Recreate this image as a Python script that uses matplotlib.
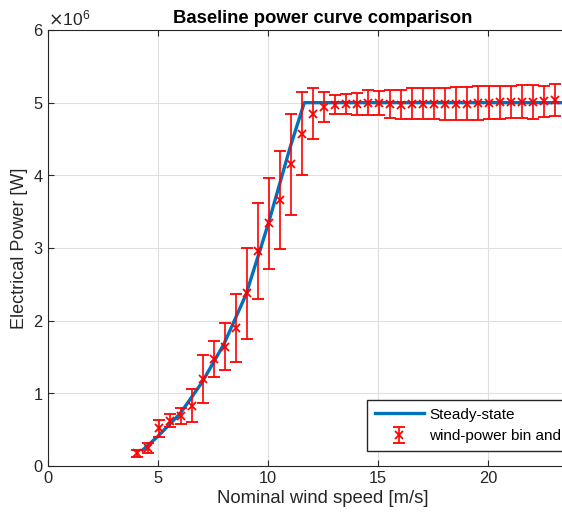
import numpy as np
import matplotlib
matplotlib.use("Agg")
import matplotlib.pyplot as plt

plt.rcParams['font.family'] = ['Liberation Sans', 'DejaVu Sans']

# steady-state power curve
ss_wind = [4.3, 5, 6, 7, 8, 9, 10, 11, 11.65, 25]
ss_power = [0.22e6, 0.41e6, 0.72e6, 1.15e6, 1.68e6, 2.36e6, 3.32e6, 4.38e6, 5.0e6, 5.0e6]

# binned measurements (mean and std)
bin_wind = [4.05, 4.55, 5.05, 5.55, 6.05, 6.55, 7.05, 7.55, 8.05, 8.55,
            9.05, 9.55, 10.05, 10.55, 11.05, 11.55, 12.05, 12.55, 13.05, 13.55,
            14.05, 14.55, 15.05, 15.55, 16.05, 16.55, 17.05, 17.55, 18.05, 18.55,
            19.05, 19.55, 20.05, 20.55, 21.05, 21.55, 22.05, 22.55, 23.05]
bin_mean = [0.175, 0.243, 0.52, 0.62, 0.69, 0.83, 1.197, 1.47, 1.64, 1.90,
            2.375, 2.96, 3.34, 3.66, 4.15, 4.57, 4.85, 4.94, 4.97, 4.986,
            4.986, 5.0, 4.995, 4.98, 4.97, 4.986, 4.986, 4.986, 4.986, 4.986,
            4.986, 4.995, 5.0, 5.005, 5.01, 5.014, 5.01, 5.018, 5.03]
bin_std = [0.045, 0.07, 0.115, 0.09, 0.11, 0.23, 0.325, 0.25, 0.325, 0.47,
           0.63, 0.66, 0.63, 0.68, 0.69, 0.57, 0.35, 0.2, 0.13, 0.14,
           0.15, 0.17, 0.17, 0.19, 0.2, 0.215, 0.215, 0.215, 0.22, 0.23,
           0.23, 0.234, 0.23, 0.227, 0.225, 0.23, 0.23, 0.21, 0.22]

bin_mean = np.array(bin_mean) * 1e6
bin_std = np.array(bin_std) * 1e6

fig = plt.figure(figsize=(5.62, 5.23), dpi=100)
ax = fig.add_axes([48/562, 1-466/523, 25*22/562, (466-30)/523])

dark = '#262626'
ax.plot(ss_wind, ss_power, color='#0072BD', lw=2.4, label='Steady-state', zorder=3)
ax.errorbar(bin_wind, bin_mean, yerr=bin_std, fmt='x', color='#FF0000', ms=6,
            mew=1.3, elinewidth=1.2, capsize=4, capthick=1.2,
            label='wind-power bin and standard deviation', zorder=4)

ax.set_xlim(0, 25)
ax.set_ylim(0, 6e6)
ax.set_xticks([0, 5, 10, 15, 20])
ax.set_yticks(np.arange(0, 7) * 1e6)
ax.ticklabel_format(axis='y', style='sci', scilimits=(6, 6), useMathText=True)
ax.yaxis.get_offset_text().set_fontsize(12.5)
ax.yaxis.get_offset_text().set_color(dark)

ax.grid(True, color='#DFDFDF', lw=0.8)
ax.set_axisbelow(True)
ax.tick_params(direction='in', top=True, right=True, labelsize=11.8,
               colors=dark, length=4)
for s in ax.spines.values():
    s.set_color(dark)
    s.set_linewidth(0.8)

ax.set_xlabel('Nominal wind speed [m/s]', fontsize=13.3, color=dark, labelpad=3)
ax.set_ylabel('Electrical Power [W]', fontsize=13, color=dark, labelpad=3)
ax.set_title('Baseline power curve comparison', fontsize=13.3, fontweight='bold', pad=5)

ax.legend(loc='upper left', bbox_to_anchor=(367/562, 1-400/523),
          bbox_transform=fig.transFigure, fontsize=11, fancybox=False,
          edgecolor=dark, framealpha=1, borderaxespad=0, handlelength=3.2,
          handletextpad=0.35, borderpad=0.5)

fig.savefig('out.png', dpi=100)
